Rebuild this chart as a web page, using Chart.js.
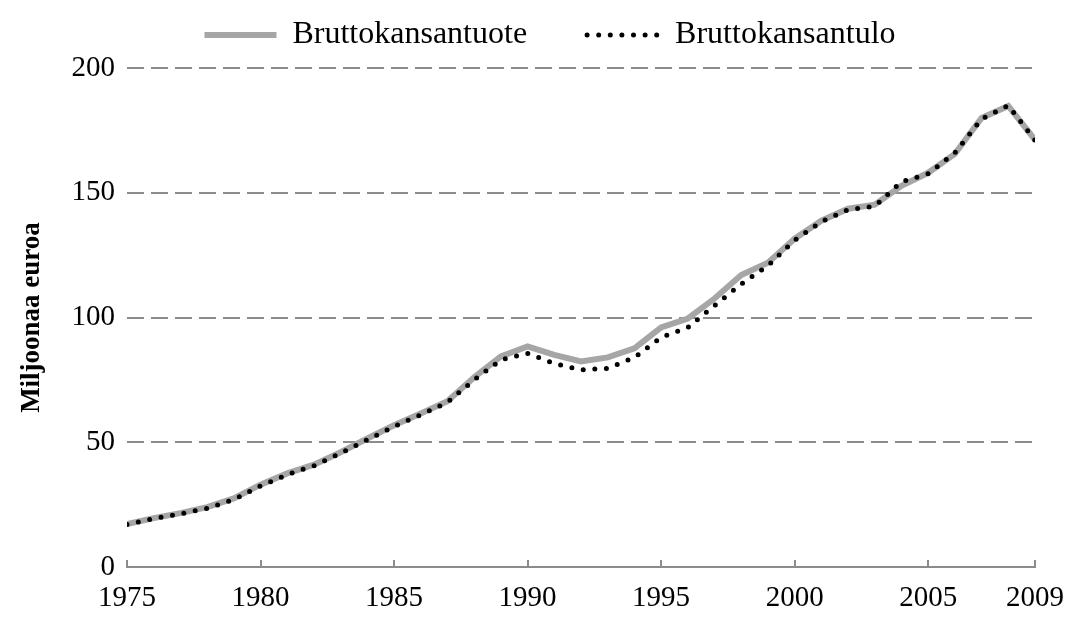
<!DOCTYPE html>
<html>
<head>
<meta charset="utf-8">
<script src="https://cdn.jsdelivr.net/npm/chart.js@4"></script>
<style>
  body { margin: 0; background: #fff; }
  #wrap { width: 1070px; height: 617px; }
</style>
</head>
<body>
<div id="wrap"><canvas id="chart" width="1070" height="617"></canvas></div>
<script>
const years = [1975, 1976, 1977, 1978, 1979, 1980, 1981, 1982, 1983, 1984,
  1985, 1986, 1987, 1988, 1989, 1990, 1991, 1992, 1993, 1994,
  1995, 1996, 1997, 1998, 1999, 2000, 2001, 2002, 2003, 2004,
  2005, 2006, 2007, 2008, 2009];
const bkt = [17.2, 19.6, 21.6, 24, 27.5, 33, 37.5, 41, 46, 51.5,
  56.8, 61.5, 66.4, 76, 84.4, 88.4, 85, 82.4, 84, 87.6,
  96, 99.6, 107.6, 117, 122, 131.6, 138.8, 143.6, 145.2, 152.8,
  158, 165.6, 180, 184.8, 171.2];
const bktl = [17, 19.4, 21.3, 23.5, 27, 32.5, 37, 40.6, 45.6, 51,
  56.3, 61, 66, 75, 83, 85.6, 81.6, 79, 79.6, 84,
  92, 96, 104.8, 113.4, 120.8, 131, 138.4, 143.2, 144.6, 154.4,
  157.6, 166, 179.6, 185, 171];
const xTicks = [1975, 1980, 1985, 1990, 1995, 2000, 2005, 2009];
const yTicks = [0, 50, 100, 150, 200];
const seriesNames = ["Bruttokansantuote", "Bruttokansantulo"];

const FONT = "'Liberation Serif', 'Times New Roman', serif";
const GRID = "#8c8c8c";

// small upward tick marks on the x axis
const innerTicks = {
  id: "innerTicks",
  afterDraw(chart) {
    const x = chart.scales.x;
    const ctx = chart.ctx;
    ctx.save();
    ctx.strokeStyle = GRID;
    ctx.lineWidth = 2;
    xTicks.forEach(v => {
      const px = Math.round(x.getPixelForValue(v));
      ctx.beginPath();
      ctx.moveTo(px, x.top);
      ctx.lineTo(px, x.top - 7);
      ctx.stroke();
    });
    ctx.restore();
  }
};

// legend: keep the plot top fixed, nudge the row right
const legendTweak = {
  id: "legendTweak",
  afterInit(chart) {
    const lg = chart.legend;
    const fit = lg.fit.bind(lg);
    const draw = lg.draw.bind(lg);
    lg.fit = function () { fit(); this.height = 109; };
    lg.draw = function () {
      const ctx = chart.ctx;
      ctx.save();
      ctx.translate(31, 0);
      draw();
      ctx.restore();
    };
  }
};

new Chart(document.getElementById("chart"), {
  type: "line",
  data: {
    datasets: [
      {
        label: seriesNames[0],
        data: years.map((y, i) => ({ x: y, y: bkt[i] })),
        borderColor: "#a6a6a6",
        backgroundColor: "#a6a6a6",
        borderWidth: 6,
        borderCapStyle: "butt",
        pointRadius: 0,
        tension: 0,
        order: 1,
        pointStyle: "line"
      },
      {
        label: seriesNames[1],
        data: years.map((y, i) => ({ x: y, y: bktl[i] })),
        borderColor: "#000",
        backgroundColor: "#000",
        borderWidth: 5,
        borderDash: [0, 11.6],
        borderCapStyle: "round",
        pointRadius: 0,
        tension: 0,
        order: 0,
        pointStyle: "line"
      }
    ]
  },
  options: {
    responsive: false,
    animation: false,
    devicePixelRatio: 1,
    layout: { padding: { top: -41, right: 32, left: 0, bottom: 0 } },
    plugins: {
      tooltip: { enabled: false },
      legend: {
        position: "top",
        labels: {
          usePointStyle: true,
          pointStyleWidth: 72,
          padding: 60,
          color: "#000",
          font: { family: FONT, size: 32 },
          sort: (a, b) => a.datasetIndex - b.datasetIndex,
          generateLabels: chart => {
            const items = Chart.defaults.plugins.legend.labels.generateLabels(chart);
            items.forEach(it => {
              const ds = chart.data.datasets[it.datasetIndex];
              it.lineWidth = ds.borderWidth;
              it.lineDash = ds.borderDash || [];
              it.lineCap = ds.borderCapStyle;
              it.strokeStyle = ds.borderColor;
              it.fillStyle = ds.borderColor;
            });
            return items;
          }
        }
      }
    },
    scales: {
      x: {
        type: "linear",
        min: 1975,
        max: 2009,
        afterBuildTicks: s => { s.ticks = xTicks.map(v => ({ value: v })); },
        afterFit: s => { s.height = 50; },
        grid: { display: false },
        border: { display: true, color: GRID, width: 2 },
        ticks: {
          autoSkip: false,
          maxRotation: 0,
          padding: 6,
          color: "#000",
          font: { family: FONT, size: 29 },
          callback: v => String(v)
        }
      },
      y: {
        min: 0,
        max: 200,
        afterBuildTicks: s => { s.ticks = yTicks.map(v => ({ value: v })); },
        afterFit: s => { s.width = 127; },
        border: { display: false, dash: [17, 7] },
        grid: {
          drawTicks: false,
          color: c => (c.tick && c.tick.value === 0) ? "rgba(0,0,0,0)" : GRID,
          lineWidth: 2
        },
        ticks: {
          padding: 12,
          color: "#000",
          font: { family: FONT, size: 29 },
          callback: v => String(v)
        },
        title: {
          display: true,
          text: "Miljoonaa euroa",
          color: "#000",
          padding: { top: 16, bottom: 0 },
          font: { family: FONT, size: 27, weight: "bold" }
        }
      }
    }
  },
  plugins: [innerTicks, legendTweak]
});
</script>
</body>
</html>
